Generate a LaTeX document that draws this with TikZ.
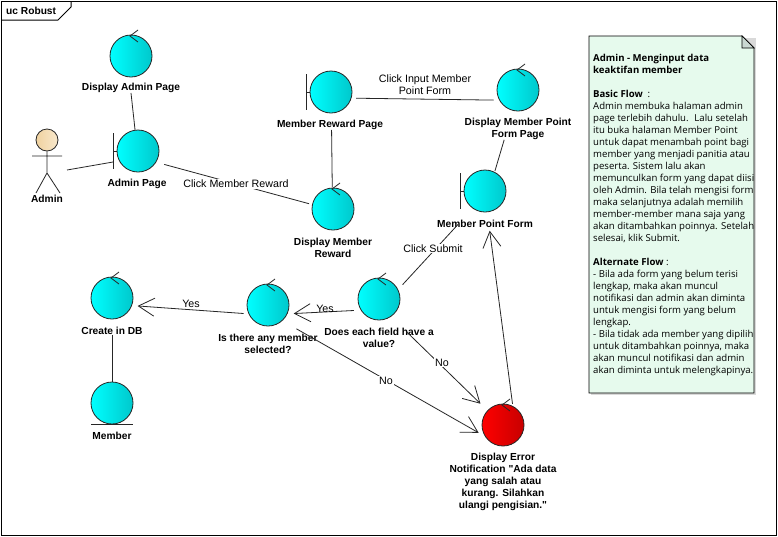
\documentclass[tikz,border=0pt]{standalone}
\usepackage{fontspec}
\newfontfamily\labelfont{Liberation Sans}
\newfontfamily\notefont{Open Sans}
\usetikzlibrary{arrows.meta}
\definecolor{notegreen}{HTML}{E6FAED}
\definecolor{notefold}{HTML}{CAD8D2}
\definecolor{ctrlcyan}{HTML}{00FFFF}
\definecolor{ctrldark}{HTML}{00C8CC}
\definecolor{headtan}{HTML}{F0D2A0}
\definecolor{headpale}{HTML}{F8E8CC}
\tikzset{
  ctrl/.style={circle,draw=black!85,line width=0.8pt,minimum size=42pt,inner sep=0pt,outer sep=0pt,left color=ctrlcyan,right color=ctrldark},
  errctrl/.style={ctrl,left color=red,right color=red!78!black},
  elabel/.style={font=\labelfont\fontsize{10.2}{12}\selectfont\bfseries,align=center,inner sep=0pt},
  linktxt/.style={font=\labelfont\fontsize{10.7}{12}\selectfont,align=center,fill=white,inner xsep=1pt,inner ysep=1pt},
  link/.style={draw=black!85,line width=0.8pt},
  flow/.style={link,-{Straight Barb[length=16pt,width=18pt,line width=0.8pt]}}
}
\begin{document}
\begin{tikzpicture}[x=1pt,y=-1pt]
\useasboundingbox (0,0) rectangle (778,536);
\fill[white] (0,0) rectangle (778,536);
% Frame
\draw[line width=1pt,black] (1,1) rectangle (776,535);
\draw[line width=1pt,black] (1,20) -- (58,20) -- (71,7) -- (71,1);
\node[font=\labelfont\fontsize{10.2}{12}\selectfont\bfseries,anchor=west,inner sep=0pt] (frametitle) at (6,10.5) {uc Robust};
% Note
\fill[black!15] (591,38) rectangle (756,395);
\draw[fill=notegreen,line width=0.9pt] (589,36) -- (742,36) -- (754,48) -- (754,393) -- (589,393) -- cycle;
\draw[fill=notefold,line width=0.7pt] (742,36) -- (742,48) -- (754,48) -- cycle;
\node[font=\notefont\fontsize{9.6}{12}\selectfont,anchor=north west,align=left,inner sep=0pt] (notetext) at (593,53.5) {%
\textbf{Admin - Menginput data}\\
\textbf{keaktifan member}\\
\mbox{}\\
\textbf{Basic Flow}~ :\\
Admin membuka halaman admin\\
page terlebih dahulu.~ Lalu setelah\\
itu buka halaman Member Point\\
untuk dapat menambah point bagi\\
member yang menjadi panitia atau\\
peserta. Sistem lalu akan\\
memunculkan form yang dapat diisi\\
oleh Admin. Bila telah mengisi form\\
maka selanjutnya adalah memilih\\
member-member mana saja yang\\
akan ditambahkan poinnya. Setelah\\
selesai, klik Submit.\\
\mbox{}\\
\textbf{Alternate Flow} :\\
- Bila ada form yang belum terisi\\
lengkap, maka akan muncul\\
notifikasi dan admin akan diminta\\
untuk mengisi form yang belum\\
lengkap.\\
- Bila tidak ada member yang dipilih\\
untuk ditambahkan poinnya, maka\\
akan muncul notifikasi dan admin\\
akan diminta untuk melengkapinya.};
% Elements
\node[ctrl] (dispadmin) at (131,56) {};
\node[ctrl] (adminpage) at (138,151) {};
\node[ctrl] (rewardpage) at (331,92) {};
\node[ctrl] (disppoint) at (518,90) {};
\node[ctrl] (pointform) at (485,191) {};
\node[ctrl] (dispreward) at (333,209) {};
\node[ctrl] (fieldcheck) at (379,299) {};
\node[ctrl] (membercheck) at (268,305) {};
\node[ctrl] (createdb) at (112,298) {};
\node[ctrl] (member) at (112,403) {};
\node[errctrl] (disperror) at (503,425) {};
\node[elabel] (dispadminlbl) at (131,88) {Display Admin Page};
\node[elabel] (adminpagelbl) at (137,184) {Admin Page};
\node[elabel] (rewardpagelbl) at (330,125) {Member Reward Page};
\node[elabel] (disppointlbl) at (518,129) {Display Member Point\\Form Page};
\node[elabel] (pointformlbl) at (485,224) {Member Point Form};
\node[elabel] (disprewardlbl) at (333,248) {Display Member\\Reward};
\node[elabel] (fieldchecklbl) at (379,338) {Does each field have a\\value?};
\node[elabel] (memberchecklbl) at (268,344) {Is there any member\\selected?};
\node[elabel] (createdblbl) at (112,331) {Create in DB};
\node[elabel] (memberlbl) at (112,436) {Member};
\node[elabel] (disperrorlbl) at (503,482) {Display Error\\Notification "Ada data\\yang salah atau\\kurang. Silahkan\\ulangi pengisian."};
% Control arrows
\foreach \n in {dispadmin,disppoint,dispreward,fieldcheck,membercheck,createdb,disperror}
  \draw[link] (\n.center) ++(7,-26) -- ++(-8,6) -- ++(8,6);
% Boundary bars
\foreach \n in {adminpage,rewardpage,pointform}
  \draw[link] (\n.west) -- ++(-4,0) ++(0,-18) -- ++(0,36);
\draw[link] (member.south) ++(-21,0) -- ++(42,0);
% Actor
\node[circle,draw=black!85,line width=0.8pt,minimum size=22pt,inner sep=0pt,left color=headtan,right color=headpale] (adminhead) at (47,140) {};
\coordinate (adminhip) at (47,173);
\coordinate (adminside) at (67,170);
\coordinate (adminbar) at (113,162);
\draw[link] (adminhead.south) -- (adminhip) -- (36,193) (adminhip) -- (60,193) (32,156) -- (62,156);
\node[elabel] (adminlbl) at (47,199) {Admin};
% Connectors
\draw[link] (adminside) -- (adminbar);
\draw[link] (dispadminlbl.south) -- (adminpage.98);
\draw[link,shorten <=8.7pt,shorten >=3.5pt] (adminpage.-32.6) -- (dispreward.168);
\draw[link,shorten <=17pt,shorten >=1pt] (rewardpage.-89) -- (dispreward.92.6);
\draw[link,shorten <=5pt,shorten >=6pt] (rewardpage.-17.7) -- (disppoint.-151.6);
\draw[link,shorten <=30.7pt,shorten >=1.4pt] (disppoint.-104.6) -- (pointform.63.4);
\draw[link,shorten <=7pt,shorten >=22pt] (fieldcheck.26.6) -- (pointform.-125.5);
\draw[flow,shorten <=7.3pt,shorten >=6.7pt] (fieldcheck.-148) -- (membercheck.-25.6);
\draw[flow,shorten <=5.4pt,shorten >=6pt] (membercheck.-155.4) -- (createdb.-21.8);
\draw[link] (createdblbl.south) -- (member.north);
\draw[flow,shorten <=22pt,shorten >=10pt] (fieldcheck.-56) -- (disperror.137.6);
\draw[flow,shorten <=16.5pt,shorten >=8pt] (membercheck.-48) -- (disperror.-146);
\draw[flow,shorten <=2.7pt,shorten >=19pt] (disperror.62) -- (pointform.-84);
% Link labels
\node[linktxt] (clickreward) at (236,184) {Click Member Reward};
\node[linktxt,fill=none] (clickinput) at (425,85) {Click Input Member\\Point Form};
\node[linktxt] (clicksubmit) at (433,248.5) {Click Submit};
\node[linktxt,fill=none] (yesone) at (325,309) {Yes};
\node[linktxt,fill=none] (yestwo) at (191,304) {Yes};
\node[linktxt] (noone) at (442,362.5) {No};
\node[linktxt] (notwo) at (386,381) {No};
\end{tikzpicture}
\end{document}
